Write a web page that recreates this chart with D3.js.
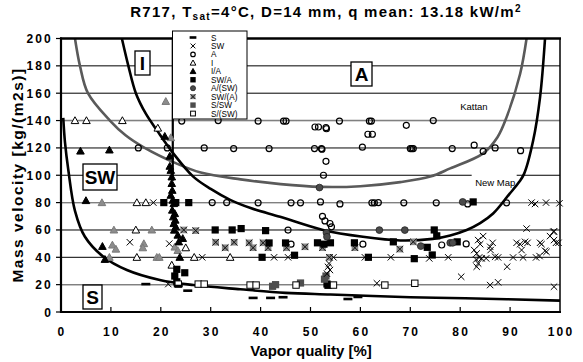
<!DOCTYPE html>
<html>
<head>
<meta charset="utf-8">
<script src="https://cdn.jsdelivr.net/npm/d3@7"></script>
<style>
  body { margin: 0; background: #fff; }
  svg { font-family: "Liberation Sans", Arial, sans-serif; }
</style>
</head>
<body>
<script>
// Flow pattern map, R717 - x: vapor quality [%], y: mass velocity [kg/(m2s)]
const w = 583, h = 362;
const xTicks = [0, 10, 20, 30, 40, 50, 60, 70, 80, 90, 100];
const yTicks = [0, 20, 40, 60, 80, 100, 120, 140, 160, 180, 200];
const seriesLevels = [20, 60, 80, 120, 140]; // grey test-series lines

// transition curves [quality %, G]
const newMapS = [[0.45,142],[0.8,124],[1.46,104],[2.8,74],[4.8,55],[8.5,40.4],[13.2,30.7],[19.8,23.4],
  [26.5,19.7],[35.9,16.6],[45,14],[54,12.8],[70,10.8],[81,10.1],[100,8.3]];
const newMapU = [[12.2,200],[13.5,180],[15,160],[17,145],[19.2,133],[22.5,116],[26.5,99],[30,90],[33.9,82],
  [38,76],[43.9,69.6],[52.5,60],[60.5,55],[68,52.3],[74.5,53.5],[78,56],[81.3,60],[84,65],[86.6,72],
  [89.8,86],[91.8,95],[92.8,101],[94.6,125],[96,157],[97,200]];
const newMapIA = [[22.4,200],[22.4,96]];
const kattan = [[2.8,200],[3.8,180],[5.4,160],[9.8,140],[13,129],[16.5,120.6],[23.2,108.5],[28,102],
  [36,97],[44,93.5],[52,91.5],[60,92],[68,95],[74,99],[78,105],[84.6,116],[87.5,128],[89.3,142.5],
  [92,174],[93.3,200]];

// observed flow patterns
const ptsS = [[17,20.4],[23.5,19],[25.4,15.6],[38.5,10.3],[42,10.3],[44.5,10.8],[57.5,9.5],[59.5,11]];
const ptsSW = [[18.5,80],[13.8,51],[21.7,50],[28.3,40],[21.5,20.4],[42.7,40],[45.5,40],[54.6,40],[60.9,40],
  [66.1,40],[63.3,21],[53.7,35.5],[53.5,33],[53.9,30.7],[53.3,28],[73.8,39.2],[77.6,40],[94.3,80],[95,79],
  [97.2,80],[99.9,79.5],[93.3,61],[98.8,59],
  [83.6,52.6],[84.6,55.5],[84.0,49.6],[82.8,45.3],[83.3,42.8],[83.8,39.9],[83.2,38.4],[83.6,35.5],[83.3,33.1],
  [84.3,39.2],[85.2,39.2],[86.0,47.7],[86.1,45.3],[86.5,50.6],[87.0,40.4],[87.6,39.9],[89.4,33.1],[90.6,39.9],
  [91.3,50.6],[92.0,49.6],[92.3,45.3],[92.6,39.9],[93.0,51.3],[93.5,50.6],[95.2,39.9],[95.9,40.9],[96.0,50.6],
  [96.3,49.6],[97.0,44.8],[97.3,44.0],[98.0,55.5],[98.7,58.6],[98.8,52.6],[99.2,50.6],[99.7,50.6],[80.2,25.8],
  [86.0,19.7],[87.6,21.7],[98.8,18.5]];
const ptsA = [[24.2,139.6],[31.5,140],[39.5,139.6],[44.6,139.6],[45.1,139.6],[55.8,139.6],[61.8,139.6],
  [62.2,139.6],[69.2,136.5],[74.6,140],[50.9,135.3],[51.6,135.3],[53.1,134.8],[53.2,134],[61.5,130],[62.4,130],
  [15.5,120],[21.3,120],[28.7,120],[34.6,119.5],[41.7,119.5],[50.8,119.5],[52.2,119.5],[52.3,119],[60.4,120.5],
  [70,119.5],[70.3,119.5],[70.6,119.5],[78.4,119.5],[82.8,122],[84.6,117.5],[87,120],[92.1,118],
  [53.1,110.2],[52.6,100],
  [30.3,80],[33.2,80],[39.5,79.8],[46.1,79.8],[48,79.8],[52,80.5],[55.9,79],[62.3,79.8],[62.8,79.8],[63.6,80],
  [68.7,79.8],[75.2,79.8],[81.5,79],[89.3,79.8],
  [52.4,70],[52.9,66.6],[53.9,64.7],[54.2,62.3],[45.5,59.9],[46.1,49.6],[60.5,49.6],[76.3,49],[81.2,49.8]];
const ptsI = [[2.8,140],[5.1,140],[12.3,140],[19.4,134.5],[15.2,80],[17,80],[15,60],[25,47],[15.2,40],
  [26.7,40],[33.9,40],[22.2,34.3]];
const ptsIA = [[20.8,128.5],[3.9,117.7],[9.7,118.5],[21.8,114],[21.8,106.6],[22,103.6],[22.2,98.8],
  [22.2,94],[22.3,89],[22.0,85.4],[22.4,81.8],[22.6,79.3],[22.3,74.5],[22.8,72],[22.5,69.6],[22.9,67.2],
  [22.6,64.7],[23.0,62.3],[22.7,59.9],[23.4,56.2],[24.4,53.8],[23.6,51.3],[5,81.5],[8.3,48],[8.8,38.5],
  [23.8,40]];
const ptsIAgrey = [[21,154],[22,127.5],[8.2,80],[10.6,60],[18.2,60],[10.3,49],[11,46],[16.6,50],[16.4,47],
  [22.8,47.5],[23.4,45],[9.7,40],[19.2,40],[19.7,40]];
const ptsSWA = [[20.6,80],[23,80],[25.6,80],[30.9,60],[34.3,60],[36.1,61],[41,59.5],[41.7,50.5],[45,50.5],
  [51.4,50.6],[52.7,49.6],[54,50.6],[58.8,50.6],[66.6,51.3],[40.3,40],[46.8,41.5],[61.6,40],[82.6,80.5],
  [74.8,60],[75.3,55.7],[73.4,47.3],[79.4,51.3],[70.8,39],[74.4,41.7],[23.2,31.2],[24.8,28.7],[22.8,26.3],
  [23.2,22.1],[53.3,20.5],[53.5,19.5]];
const ptsAsw = [[51.8,91],[53.2,57.9],[53.3,55],[63.8,59.9],[68.9,59.9],[80.5,80.5],[72.1,48.2],[78,50.6],
  [78.5,50.6]];
const ptsSWa = [[24.6,60],[27,59.5],[31,51],[32.9,47],[34.7,51],[37.7,50.6],[40.5,50.6],[38.5,47],[41.5,47],
  [45.2,47],[48.9,47.7],[52.4,47],[58.9,47],[67.9,46],[53.8,40],[70.6,51.3]];
const ptsSSW = [[53.1,26.3],[52.8,24],[42.4,18.8],[43,20],[48,21.2]];
const ptsSsw = [[23.5,20.4],[27.5,20.4],[28.7,20.4],[37.9,19.7],[39.1,19.7],[47.1,19.7],[54.6,19.7],
  [64.9,19.7],[70.9,21]];

const legendNames = ["S", "SW", "A", "I", "I/A", "SW/A", "A/(SW)", "SW/(A)", "S/SW", "S/(SW)"];
const legendKinds = ["dash", "cross", "circle", "triOpen", "triFill", "sqFill", "circGrey", "sqX", "sqGrey", "sqOpen"];

const xScale = d3.scaleLinear().domain([0, 100]).range([61, 560]);
const yScale = d3.scaleLinear().domain([0, 200]).range([312, 38.5]);

const svg = d3.select("body").append("svg").attr("width", w).attr("height", h);

svg.append("defs").append("clipPath").attr("id", "plot")
   .append("rect").attr("x", 61).attr("y", 38.5).attr("width", 499).attr("height", 273.5);

// grid
svg.append("g").selectAll("line").data(yTicks.slice(1)).join("line")
   .attr("x1", 61).attr("x2", 560)
   .attr("y1", d => yScale(d)).attr("y2", d => yScale(d))
   .attr("stroke", "#000").attr("stroke-width", 1);
svg.append("g").selectAll("line").data(seriesLevels).join("line")
   .attr("x1", 61).attr("x2", 560)
   .attr("y1", d => yScale(d)).attr("y2", d => yScale(d))
   .attr("stroke", "#808080").attr("stroke-width", 1.4);

// "New Map" label sits on a white patch over the 100 grid line
svg.append("rect").attr("x", xScale(82.3)).attr("y", yScale(100) - 4)
   .attr("width", 45).attr("height", 14).attr("fill", "#fff");
svg.append("text").attr("x", xScale(83)).attr("y", yScale(100) + 10.5)
   .attr("font-size", 9.5).text("New Map");
svg.append("text").attr("x", xScale(80)).attr("y", yScale(147.5))
   .attr("font-size", 9.5).text("Kattan");

// curves
const line = d3.line().x(d => xScale(d[0])).y(d => yScale(d[1])).curve(d3.curveCatmullRom);
const curves = svg.append("g").attr("clip-path", "url(#plot)").attr("fill", "none");
curves.append("path").attr("d", line(kattan)).attr("stroke", "#5a5a5a").attr("stroke-width", 2.6);
curves.append("path").attr("d", line(newMapU)).attr("stroke", "#000").attr("stroke-width", 2.6);
curves.append("path").attr("d", line(newMapS)).attr("stroke", "#000").attr("stroke-width", 2.6);
curves.append("path").attr("d", d3.line().x(d => xScale(d[0])).y(d => yScale(d[1]))(newMapIA))
   .attr("stroke", "#000").attr("stroke-width", 2.2);

// marker drawing
function marker(g, kind, cx, cy, s) {
  const k = s || 1;
  if (kind === "dash") {
    g.append("rect").attr("x", cx - 4.5 * k).attr("y", cy - 1.3).attr("width", 9 * k).attr("height", 2.6).attr("fill", "#000");
  } else if (kind === "cross") {
    const r = 3.2 * k;
    g.append("path").attr("d", `M${cx - r},${cy - r}L${cx + r},${cy + r}M${cx - r},${cy + r}L${cx + r},${cy - r}`)
     .attr("stroke", "#000").attr("stroke-width", 1);
  } else if (kind === "circle") {
    g.append("circle").attr("cx", cx).attr("cy", cy).attr("r", 3 * k).attr("fill", "none").attr("stroke", "#000").attr("stroke-width", 1.2);
  } else if (kind.startsWith("tri")) {
    const r = 3.8 * k;
    const fill = kind === "triOpen" ? "#fff" : kind === "triFill" ? "#000" : "#8c8c8c";
    g.append("path").attr("d", `M${cx},${cy - r}L${cx + r},${cy + r * 0.8}L${cx - r},${cy + r * 0.8}Z`)
     .attr("fill", fill).attr("stroke", kind === "triGrey" ? "#7a7a7a" : "#000").attr("stroke-width", 1);
  } else if (kind === "sqFill" || kind === "sqGrey") {
    const r = 3.6 * k;
    g.append("rect").attr("x", cx - r).attr("y", cy - r).attr("width", 2 * r).attr("height", 2 * r)
     .attr("fill", kind === "sqFill" ? "#000" : "#4d4d4d");
  } else if (kind === "circGrey") {
    g.append("circle").attr("cx", cx).attr("cy", cy).attr("r", 3.4 * k).attr("fill", "#4a4a4a").attr("stroke", "#222").attr("stroke-width", 0.8);
  } else if (kind === "sqX") {
    const r = 3.3 * k;
    g.append("rect").attr("x", cx - r).attr("y", cy - r).attr("width", 2 * r).attr("height", 2 * r).attr("fill", "#8a8a8a");
    g.append("path").attr("d", `M${cx - r},${cy - r}L${cx + r},${cy + r}M${cx - r},${cy + r}L${cx + r},${cy - r}`)
     .attr("stroke", "#111").attr("stroke-width", 1);
  } else if (kind === "sqOpen") {
    const r = 3.2 * k;
    g.append("rect").attr("x", cx - r).attr("y", cy - r).attr("width", 2 * r).attr("height", 2 * r)
     .attr("fill", "#fff").attr("stroke", "#000").attr("stroke-width", 1);
  }
}

const series = [
  [ptsA, "circle"], [ptsI, "triOpen"], [ptsIAgrey, "triGrey"], [ptsIA, "triFill"], [ptsSWa, "sqX"],
  [ptsSWA, "sqFill"], [ptsAsw, "circGrey"], [ptsSSW, "sqGrey"], [ptsSsw, "sqOpen"], [ptsSW, "cross"], [ptsS, "dash"]
];
const marks = svg.append("g");
series.forEach(([pts, kind]) => pts.forEach(p => marker(marks, kind, xScale(p[0]), yScale(p[1]))));

// frame and axes
svg.append("line").attr("x1", 60).attr("x2", 561).attr("y1", yScale(200)).attr("y2", yScale(200))
   .attr("stroke", "#000").attr("stroke-width", 2.5);
svg.append("line").attr("x1", 560).attr("x2", 560).attr("y1", yScale(200)).attr("y2", yScale(0))
   .attr("stroke", "#000").attr("stroke-width", 1.5);
svg.append("line").attr("x1", 61).attr("x2", 61).attr("y1", yScale(200) - 1).attr("y2", yScale(0) + 1)
   .attr("stroke", "#000").attr("stroke-width", 2.2);
svg.append("line").attr("x1", 60).attr("x2", 561).attr("y1", yScale(0)).attr("y2", yScale(0))
   .attr("stroke", "#000").attr("stroke-width", 2.2);

svg.append("g").selectAll("line").data(yTicks).join("line")
   .attr("x1", 56).attr("x2", 61).attr("y1", d => yScale(d)).attr("y2", d => yScale(d))
   .attr("stroke", "#000").attr("stroke-width", 1.2);
svg.append("g").selectAll("text").data(yTicks).join("text")
   .attr("x", 53).attr("y", d => yScale(d) + 4.5).attr("text-anchor", "end")
   .attr("font-size", 12).attr("font-weight", "bold").attr("letter-spacing", 2.2).text(d => d);

svg.append("g").selectAll("line").data(xTicks.slice(1, -1)).join("line")
   .attr("x1", d => xScale(d)).attr("x2", d => xScale(d)).attr("y1", yScale(0)).attr("y2", yScale(0) - 5)
   .attr("stroke", "#000").attr("stroke-width", 1.2);
svg.append("g").selectAll("text").data(xTicks).join("text")
   .attr("x", d => xScale(d) + 1).attr("y", 336).attr("text-anchor", "middle")
   .attr("font-size", 12).attr("font-weight", "bold").attr("letter-spacing", 2.2).text(d => d);

// region boxes
const boxes = [["I", 135, 51, 15, 24], ["A", 351, 62, 21, 24], ["SW", 83, 164, 34, 26], ["S", 83, 285, 19, 24]];
boxes.forEach(([t, x, y, bw, bh]) => {
  svg.append("rect").attr("x", x).attr("y", y).attr("width", bw).attr("height", bh)
     .attr("fill", "#fff").attr("stroke", "#000").attr("stroke-width", 1.3);
  svg.append("text").attr("x", x + bw / 2).attr("y", y + bh / 2 + 7).attr("text-anchor", "middle")
     .attr("font-size", 19).attr("font-weight", "bold").text(t);
});

// legend
const lg = svg.append("g");
lg.append("rect").attr("x", 172.5).attr("y", 31).attr("width", 74.5).attr("height", 88)
  .attr("fill", "#fff").attr("stroke", "#000").attr("stroke-width", 1);
legendNames.forEach((name, i) => {
  const cy = 37.5 + i * 8.45;
  marker(lg, legendKinds[i], 193, cy, 0.75);
  lg.append("text").attr("x", 211).attr("y", cy + 3).attr("font-size", 8.2).text(name);
});

// titles
const title = svg.append("text").attr("x", 326).attr("y", 17).attr("text-anchor", "middle")
   .attr("font-size", 15).attr("font-weight", "bold").attr("letter-spacing", 1.3);
title.append("tspan").text("R717, T");
title.append("tspan").attr("font-size", 10).attr("dy", 3).text("sat");
title.append("tspan").attr("dy", -3).text("=4°C, D=14 mm, q mean: 13.18 kW/m");
title.append("tspan").attr("font-size", 10).attr("dy", -5).text("2");

svg.append("text").attr("x", 311).attr("y", 356).attr("text-anchor", "middle")
   .attr("font-size", 15).attr("font-weight", "bold").text("Vapor quality [%]");
svg.append("text").attr("transform", "translate(23,175) rotate(-90)").attr("text-anchor", "middle")
   .attr("font-size", 15.5).attr("font-weight", "bold").attr("letter-spacing", 1.5).text("Mass velocity [kg/(m2s)]");
</script>
</body>
</html>
